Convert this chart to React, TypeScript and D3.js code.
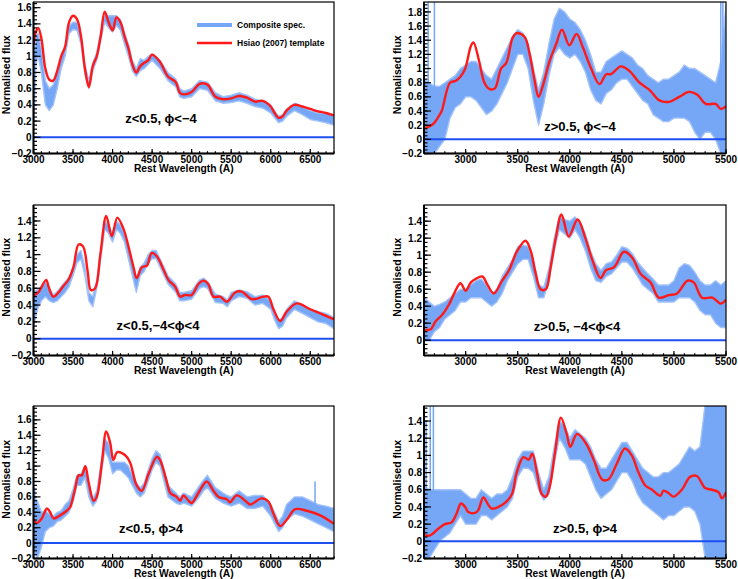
import React from "react";
import * as d3 from "d3";

// wavelength grids (Angstrom) on which the composite spectra bands were read
const gridLeft = [
  3000, 3050, 3100, 3150, 3200, 3250, 3300, 3350, 3400, 3450, 3500, 3550, 3600, 3650, 3700, 3750, 3800,
  3850, 3900, 3950, 4000, 4050, 4100, 4150, 4200, 4250, 4300, 4350, 4400, 4450, 4500, 4550, 4600,
  4700, 4800, 4850, 4900, 5000, 5100, 5150, 5200, 5300, 5400, 5450, 5500, 5600, 5700, 5800, 5900,
  6000, 6050, 6100, 6150, 6200, 6300, 6400, 6500, 6600, 6700, 6800,
];
const gridRight = [
  2600, 2650, 2700, 2750, 2800, 2850, 2900, 2950, 3000, 3050, 3100, 3150, 3200, 3250, 3300, 3350,
  3400, 3450, 3500, 3550, 3600, 3650, 3700, 3750, 3800, 3850, 3900, 3950, 4000, 4050, 4100, 4150,
  4200, 4250, 4300, 4350, 4400, 4450, 4500, 4550, 4600, 4650, 4700, 4750, 4800, 4850, 4900, 4950,
  5000, 5050, 5100, 5150, 5200, 5250, 5300, 5350, 5400, 5450, 5500,
];

// panel 1: z<0.5, phi<-4
const wave1 = [
  3000, 3030, 3060, 3100, 3150, 3200, 3250, 3300, 3350, 3400, 3450, 3500, 3550, 3600, 3650, 3700,
  3750, 3800, 3850, 3900, 3950, 4000, 4050, 4100, 4150, 4200, 4250, 4300, 4350, 4400, 4450, 4500,
  4600, 4700, 4800, 4850, 4900, 5000, 5100, 5200, 5300, 5400, 5500, 5600, 5700, 5800, 5900, 6000,
  6050, 6100, 6150, 6200, 6300, 6400, 6500, 6600, 6700, 6800,
];
const tmpl1 = [
  1.15, 1.3, 1.35, 1.22, 0.85, 0.71, 0.7, 0.82, 1.0, 1.12, 1.42, 1.5, 1.46, 1.25, 0.85, 0.62, 0.88,
  1.0, 1.25, 1.55, 1.42, 1.32, 1.48, 1.42, 1.25, 1.1, 0.9, 0.8, 0.88, 0.92, 0.95, 1.02, 0.93, 0.75,
  0.68, 0.55, 0.53, 0.56, 0.66, 0.65, 0.5, 0.47, 0.48, 0.51, 0.49, 0.44, 0.45, 0.38, 0.3, 0.24, 0.26,
  0.33, 0.4, 0.38, 0.35, 0.32, 0.3, 0.27,
];
const specLo1 = [
  0.05, 0.9, 1.0, 0.8, 0.4, 0.33, 0.4, 0.6, 0.85, 1.0, 1.28, 1.33, 1.32, 1.15, 0.78, 0.6, 0.82, 0.95,
  1.2, 1.42, 1.35, 1.3, 1.38, 1.32, 1.15, 1.0, 0.82, 0.75, 0.82, 0.85, 0.9, 0.95, 0.85, 0.7, 0.62,
  0.5, 0.48, 0.5, 0.6, 0.58, 0.45, 0.42, 0.43, 0.45, 0.42, 0.38, 0.36, 0.3, 0.24, 0.18, 0.2, 0.26,
  0.33, 0.28, 0.22, 0.2, 0.18, 0.15,
];
const specHi1 = [
  0.9, 1.25, 1.28, 1.1, 0.7, 0.6, 0.65, 0.8, 1.0, 1.12, 1.38, 1.42, 1.42, 1.25, 0.9, 0.7, 0.92, 1.05,
  1.3, 1.52, 1.5, 1.5, 1.5, 1.45, 1.3, 1.15, 0.95, 0.85, 0.97, 0.95, 1.0, 1.03, 0.95, 0.8, 0.72, 0.6,
  0.57, 0.6, 0.7, 0.68, 0.55, 0.5, 0.52, 0.55, 0.52, 0.47, 0.45, 0.4, 0.32, 0.26, 0.28, 0.35, 0.42,
  0.38, 0.33, 0.3, 0.3, 0.28,
];

// panel 2: z>0.5, phi<-4
const tmplWave2 = [
  2600, 2690, 2735, 2770, 2850, 2910, 2990, 3050, 3075, 3130, 3180, 3230, 3280, 3340, 3390, 3450,
  3490, 3565, 3615, 3660, 3700, 3740, 3805, 3870, 3925, 3995, 4065, 4125, 4205, 4285, 4350, 4395,
  4490, 4570, 4670, 4765, 4860, 4955, 5050, 5145, 5225, 5305, 5400, 5450, 5500,
];
const tmpl2 = [
  0.15, 0.22, 0.31, 0.4, 0.8, 0.83, 0.98, 1.32, 1.37, 1.1, 0.8, 0.71, 0.72, 1.0, 1.08, 1.43, 1.5,
  1.45, 1.2, 0.85, 0.6, 0.75, 1.1, 1.35, 1.55, 1.33, 1.49, 1.3, 1.0, 0.78, 0.92, 0.92, 1.03, 0.97,
  0.8, 0.7, 0.55, 0.53, 0.6, 0.67, 0.63, 0.5, 0.5, 0.43, 0.47,
];
const specLo2 = [
  -0.2, -0.2, -0.2, -0.1, 0.0, 0.3, 0.45, 0.5, 0.6, 0.6, 0.55, 0.45, 0.35, 0.4, 0.5, 0.65, 0.8, 1.0,
  1.2, 1.2, 1.0, 0.55, 0.2, 0.5, 0.9, 1.2, 1.3, 1.2, 1.15, 1.2, 1.1, 0.95, 0.7, 0.55, 0.5, 0.65, 0.7,
  0.8, 0.85, 0.85, 0.75, 0.65, 0.55, 0.5, 0.35, 0.3, 0.25, 0.25, 0.3, 0.3, 0.3, 0.25, 0.1, 0.0, 0.1,
  0.1, 0.0, -0.2, -0.2,
];
const specHi2 = [
  0.85, 0.8, 0.75, 0.75, 0.8, 0.85, 0.9, 1.0, 1.05, 1.1, 1.1, 1.0, 0.9, 0.85, 1.0, 1.15, 1.3, 1.45,
  1.55, 1.5, 1.35, 1.0, 0.7, 0.95, 1.35, 1.7, 1.85, 1.8, 1.7, 1.65, 1.55, 1.4, 1.2, 0.95, 0.95, 1.1,
  1.15, 1.2, 1.25, 1.2, 1.15, 1.05, 1.0, 0.9, 0.85, 0.8, 0.85, 0.85, 0.9, 0.95, 1.05, 1.0, 1.0, 0.95,
  0.9, 0.85, 0.8, 1.1, 1.9,
];
const spikeWave2 = [2640, 2700, 5450, 5470];
const spikeBot2 = [0.5, 0.5, -0.2, -0.2];
const spikeTop2 = [1.95, 1.95, 1.95, 1.95];

// panel 3: z<0.5, -4<phi<4
const tmplWave3 = [
  3000, 3060, 3160, 3190, 3250, 3315, 3380, 3440, 3505, 3570, 3625, 3685, 3725, 3780, 3845, 3920,
  3990, 4060, 4140, 4200, 4265, 4305, 4370, 4435, 4495, 4560, 4645, 4705, 4790, 4855, 4915, 5000,
  5085, 5150, 5210, 5275, 5360, 5445, 5550, 5635, 5760, 5910, 5970, 6035, 6120, 6200, 6330, 6500, 6800,
];
const tmpl3 = [
  0.51, 0.55, 0.7, 0.62, 0.5, 0.55, 0.63, 0.7, 0.85, 1.12, 1.1, 0.8, 0.58, 0.6, 1.0, 1.46, 1.22, 1.44,
  1.3, 1.1, 0.85, 0.72, 0.85, 0.87, 1.02, 0.98, 0.82, 0.7, 0.62, 0.5, 0.52, 0.52, 0.65, 0.69, 0.65,
  0.5, 0.5, 0.44, 0.55, 0.56, 0.47, 0.5, 0.5, 0.35, 0.21, 0.32, 0.42, 0.35, 0.23,
];
const specLo3 = [
  0.15, 0.35, 0.45, 0.5, 0.45, 0.43, 0.45, 0.5, 0.55, 0.62, 0.75, 0.9, 0.95, 0.75, 0.45, 0.38, 0.6,
  0.95, 1.3, 1.25, 1.15, 1.3, 1.25, 1.15, 0.95, 0.75, 0.55, 0.75, 0.8, 0.9, 0.95, 0.95, 0.85,
  0.65, 0.55, 0.45, 0.45, 0.47, 0.6, 0.62, 0.6, 0.43, 0.42, 0.38, 0.45, 0.5, 0.48, 0.4, 0.42, 0.35,
  0.22, 0.12, 0.15, 0.25, 0.35, 0.3, 0.25, 0.2, 0.18, 0.12,
];
const specHi3 = [
  0.55, 0.58, 0.62, 0.68, 0.6, 0.52, 0.56, 0.62, 0.68, 0.72, 0.85, 1.0, 1.05, 0.85, 0.55, 0.5, 0.7,
  1.05, 1.4, 1.35, 1.25, 1.4, 1.35, 1.25, 1.1, 0.9, 0.72, 0.85, 0.9, 1.0, 1.05, 1.05, 0.95,
  0.75, 0.65, 0.55, 0.55, 0.57, 0.7, 0.72, 0.68, 0.53, 0.5, 0.46, 0.55, 0.58, 0.56, 0.5, 0.52, 0.45,
  0.3, 0.22, 0.25, 0.35, 0.45, 0.4, 0.35, 0.32, 0.3, 0.25,
];

// panel 4: z>0.5, -4<phi<4
const tmplWave4 = [
  2600, 2665, 2710, 2775, 2840, 2890, 2950, 3000, 3050, 3095, 3160, 3210, 3270, 3350, 3415, 3495,
  3575, 3625, 3670, 3720, 3770, 3815, 3865, 3920, 3990, 4075, 4150, 4215, 4295, 4345, 4425, 4520,
  4600, 4680, 4775, 4855, 4950, 5030, 5130, 5190, 5270, 5370, 5450, 5500,
];
const tmpl4 = [
  0.12, 0.13, 0.22, 0.3, 0.42, 0.55, 0.67, 0.58, 0.68, 0.72, 0.75, 0.65, 0.55, 0.7, 0.82, 1.05, 1.17,
  1.05, 0.8, 0.6, 0.6, 0.85, 1.2, 1.48, 1.22, 1.42, 1.2, 0.95, 0.73, 0.82, 0.86, 1.04, 0.97, 0.78,
  0.68, 0.5, 0.53, 0.55, 0.7, 0.68, 0.5, 0.5, 0.43, 0.48,
];
const specLo4 = [
  0.0, 0.0, 0.1, 0.15, 0.25, 0.3, 0.35, 0.45, 0.45, 0.5, 0.5, 0.5, 0.45, 0.4, 0.45, 0.55, 0.7, 0.8,
  0.9, 0.95, 0.95, 0.75, 0.5, 0.5, 0.7, 1.05, 1.3, 1.25, 1.2, 1.3, 1.2, 1.05, 0.85, 0.7, 0.68, 0.75,
  0.78, 0.85, 0.92, 0.92, 0.85, 0.75, 0.65, 0.6, 0.55, 0.45, 0.45, 0.45, 0.45, 0.5, 0.5, 0.5, 0.45,
  0.35, 0.3, 0.3, 0.2, 0.15, 0.15,
];
const specHi4 = [
  0.5, 0.45, 0.4, 0.42, 0.45, 0.5, 0.55, 0.6, 0.6, 0.65, 0.7, 0.72, 0.65, 0.55, 0.6, 0.75, 0.85, 0.95,
  1.1, 1.12, 1.1, 0.95, 0.65, 0.62, 0.85, 1.2, 1.45, 1.42, 1.4, 1.45, 1.38, 1.25, 1.05, 0.9, 0.82,
  0.9, 0.92, 1.0, 1.1, 1.08, 1.02, 0.92, 0.85, 0.78, 0.72, 0.65, 0.65, 0.65, 0.7, 0.85, 0.9, 0.88,
  0.8, 0.7, 0.65, 0.65, 0.7, 0.65, 0.7,
];

// panel 5: z<0.5, phi>4
const tmplWave5 = [
  3000, 3040, 3105, 3170, 3210, 3255, 3335, 3420, 3465, 3525, 3570, 3610, 3655, 3695, 3760, 3800,
  3865, 3920, 3970, 4010, 4060, 4160, 4220, 4305, 4370, 4455, 4560, 4600, 4685, 4730, 4810, 4855,
  4895, 4960, 5000, 5085, 5190, 5275, 5340, 5445, 5485, 5570, 5700, 5740, 5885, 5970, 6035, 6120,
  6200, 6310, 6455, 6625, 6800,
];
const tmpl5 = [
  0.31, 0.26, 0.32, 0.45, 0.4, 0.32, 0.36, 0.42, 0.47, 0.7, 0.88, 0.88, 1.0, 0.8, 0.55, 0.6, 1.05,
  1.45, 1.3, 1.08, 1.18, 1.14, 1.05, 0.75, 0.68, 0.9, 1.12, 1.08, 0.8, 0.65, 0.6, 0.55, 0.62, 0.55,
  0.52, 0.65, 0.8, 0.68, 0.6, 0.57, 0.53, 0.62, 0.53, 0.5, 0.58, 0.54, 0.38, 0.22, 0.3, 0.44, 0.42,
  0.36, 0.25,
];
const specLo5 = [
  -0.1, -0.2, -0.05, 0.15, 0.2, 0.22, 0.28, 0.3, 0.35, 0.4, 0.55, 0.75, 0.75, 0.85, 0.6, 0.48, 0.55,
  0.85, 1.2, 1.1, 0.9, 0.95, 0.95, 0.9, 0.85, 0.75, 0.65, 0.6, 0.65, 0.8, 0.95, 1.05, 1.0,
  0.6, 0.52, 0.5, 0.52, 0.48, 0.6, 0.68, 0.72, 0.58, 0.52, 0.5, 0.48, 0.52, 0.45, 0.45, 0.48, 0.35,
  0.25, 0.15, 0.2, 0.3, 0.38, 0.35, 0.3, 0.25, 0.2, 0.15,
];
const specHi5 = [
  0.6, 0.55, 0.4, 0.42, 0.38, 0.35, 0.4, 0.42, 0.5, 0.55, 0.7, 0.88, 0.9, 1.0, 0.75, 0.58, 0.68, 1.0,
  1.35, 1.3, 1.05, 1.05, 1.05, 1.05, 1.0, 0.88, 0.78, 0.72, 0.78, 0.95, 1.1, 1.2, 1.15,
  0.75, 0.65, 0.6, 0.65, 0.6, 0.75, 0.82, 0.88, 0.72, 0.65, 0.62, 0.6, 0.68, 0.6, 0.62, 0.62, 0.5,
  0.4, 0.28, 0.35, 0.5, 0.6, 0.6, 0.55, 0.5, 0.48, 0.45,
];
const spikeWave5 = [3015, 6560];
const spikeBot5 = [0.3, 0.5];
const spikeTop5 = [0.72, 0.8];

// panel 6: z>0.5, phi>4
const tmplWave6 = [
  2600, 2660, 2740, 2800, 2865, 2915, 2955, 2995, 3025, 3090, 3120, 3170, 3220, 3250, 3315, 3380,
  3445, 3490, 3555, 3605, 3640, 3685, 3730, 3770, 3810, 3860, 3915, 3970, 4005, 4070, 4150, 4230,
  4310, 4370, 4450, 4530, 4595, 4660, 4725, 4790, 4870, 4900, 4950, 4995, 5075, 5155, 5220, 5270,
  5300, 5365, 5430, 5460, 5500,
];
const tmpl6 = [
  0.07, 0.07, 0.15, 0.2, 0.22, 0.33, 0.44, 0.4, 0.34, 0.33, 0.36, 0.51, 0.42, 0.38, 0.4, 0.45, 0.55,
  0.8, 0.98, 0.95, 1.02, 0.8, 0.55, 0.52, 0.65, 1.05, 1.44, 1.25, 1.1, 1.25, 1.15, 0.95, 0.72, 0.72,
  0.9, 1.08, 1.0, 0.8, 0.65, 0.6, 0.53, 0.59, 0.56, 0.52, 0.6, 0.75, 0.76, 0.67, 0.62, 0.6, 0.57,
  0.5, 0.57,
];
const specLo6 = [
  -0.2, -0.2, -0.1, 0.0, 0.05, 0.1, 0.2, 0.3, 0.2, 0.2, 0.2, 0.3, 0.3, 0.25, 0.3, 0.35, 0.4, 0.5,
  0.75, 0.85, 0.85, 0.8, 0.6, 0.48, 0.55, 0.9, 1.2, 1.1, 0.95, 0.95, 0.95, 0.9, 0.75, 0.6, 0.5, 0.55,
  0.6, 0.7, 0.8, 0.8, 0.7, 0.55, 0.45, 0.4, 0.35, 0.3, 0.25, 0.3, 0.3, 0.35, 0.4, 0.4, 0.35, 0.2,
  -0.2, -0.2, -0.2, -0.2, -0.2,
];
const specHi6 = [
  0.65, 0.6, 0.6, 0.6, 0.6, 0.6, 0.6, 0.6, 0.55, 0.5, 0.5, 0.6, 0.55, 0.5, 0.55, 0.55, 0.6, 0.75, 0.95,
  1.05, 1.05, 1.05, 0.8, 0.6, 0.75, 1.1, 1.4, 1.35, 1.2, 1.3, 1.25, 1.2, 1.1, 0.95, 0.85, 0.85, 0.95,
  1.05, 1.15, 1.15, 1.05, 0.95, 0.85, 0.8, 0.75, 0.75, 0.8, 0.8, 0.85, 0.9, 1.0, 1.1, 1.05, 1.1, 1.6,
  1.6, 1.6, 1.6, 1.6,
];
const spikeWave6 = [2620, 2660, 2690];
const spikeBot6 = [0.0, 0.0, 0.0];
const spikeTop6 = [1.4, 1.6, 1.6];

const legendLabels = ["Composite spec.", "Hsiao (2007) template"];

const FONT = "'Liberation Sans', Arial, Helvetica, sans-serif";
const BAND = "#76a6f6";
const BAND_EDGE = "#a3c3f9";
const RED = "#ff1a1a";
const ZERO = "#1f4ff0";

type PanelProps = {
  left: number;
  right: number;
  top: number;
  bottom: number;
  xDomain: [number, number];
  yDomain: [number, number];
  specWave: number[];
  specLo: number[];
  specHi: number[];
  tmplWave: number[];
  tmpl: number[];
  spikes?: { wave: number[]; bot: number[]; top: number[] };
  label: string;
  labelX: number;
  labelY: number;
  legend?: boolean;
  id: string;
};

const Panel = (p: PanelProps) => {
  const x = d3.scaleLinear().domain(p.xDomain).range([p.left, p.right]);
  const y = d3.scaleLinear().domain(p.yDomain).range([p.bottom, p.top]);

  const band = d3
    .area<number>()
    .x((_, i) => x(p.specWave[i]))
    .y0((_, i) => y(p.specLo[i]))
    .y1((_, i) => y(p.specHi[i]));
  const line = d3
    .line<number>()
    .x((_, i) => x(p.tmplWave[i]))
    .y((d) => y(d))
    .curve(d3.curveCatmullRom.alpha(0.5));

  const xMajor = x.ticks(8);
  const xMinor = x.ticks(40);
  const yMajor = y.ticks(10);
  const yMinor = y.ticks(40);
  const fmtY = d3.format("~g");

  return (
    <g>
      <clipPath id={p.id}>
        <rect x={p.left} y={p.top} width={p.right - p.left} height={p.bottom - p.top} />
      </clipPath>
      <g clipPath={`url(#${p.id})`}>
        <path d={band(p.specLo) || ""} fill={BAND} stroke={BAND_EDGE} strokeWidth={1.4} strokeLinejoin="round" />
        {p.spikes &&
          p.spikes.wave.map((w, i) => (
            <line
              key={i}
              x1={x(w)}
              x2={x(w)}
              y1={y(p.spikes!.bot[i])}
              y2={y(p.spikes!.top[i])}
              stroke={BAND}
              strokeWidth={1.5}
            />
          ))}
        <line x1={p.left} x2={p.right} y1={y(0)} y2={y(0)} stroke={ZERO} strokeWidth={2} />
        <path d={line(p.tmpl) || ""} fill="none" stroke={RED} strokeWidth={2.4} strokeLinejoin="round" />
      </g>

      {/* frame */}
      <rect
        x={p.left}
        y={p.top}
        width={p.right - p.left}
        height={p.bottom - p.top}
        fill="none"
        stroke="#000"
        strokeWidth={1.2}
      />
      <line x1={p.left} x2={p.left} y1={p.top} y2={p.bottom} stroke="#000" strokeWidth={2} />
      <line x1={p.left} x2={p.right} y1={p.bottom} y2={p.bottom} stroke="#000" strokeWidth={2} />

      {/* x ticks */}
      {xMinor.map((t) => (
        <line key={"xm" + t} x1={x(t)} x2={x(t)} y1={p.bottom} y2={p.bottom - 2.3} stroke="#000" strokeWidth={1.2} />
      ))}
      {xMajor.map((t) => (
        <g key={"xM" + t}>
          <line x1={x(t)} x2={x(t)} y1={p.bottom} y2={p.bottom - 4.6} stroke="#000" strokeWidth={1.2} />
          <text
            x={x(t)}
            y={p.bottom + 9.5}
            textAnchor="middle"
            fontFamily={FONT}
            fontWeight="bold"
            fontSize={10}
          >
            {d3.format("d")(t)}
          </text>
        </g>
      ))}

      {/* y ticks */}
      {yMinor.map((t) => (
        <line key={"ym" + t} x1={p.left} x2={p.left + 3.5} y1={y(t)} y2={y(t)} stroke="#000" strokeWidth={1.2} />
      ))}
      {yMajor.map((t) => (
        <g key={"yM" + t}>
          <line x1={p.left} x2={p.left + 7} y1={y(t)} y2={y(t)} stroke="#000" strokeWidth={1.2} />
          <text
            x={p.left - 2}
            y={y(t)}
            dy="0.36em"
            textAnchor="end"
            fontFamily={FONT}
            fontWeight="bold"
            fontSize={10}
          >
            {fmtY(t)}
          </text>
        </g>
      ))}

      {/* axis titles */}
      <text
        x={(p.left + p.right) / 2}
        y={p.bottom + 18.3}
        textAnchor="middle"
        fontFamily={FONT}
        fontWeight="bold"
        fontSize={10.3}
      >
        Rest Wavelength (A)
      </text>
      <text
        transform={`translate(${p.left - 23.5},${(p.top + p.bottom) / 2 - 3}) rotate(-90)`}
        textAnchor="middle"
        fontFamily={FONT}
        fontWeight="bold"
        fontSize={10.5}
      >
        Normalised flux
      </text>

      <text x={p.labelX} y={p.labelY} textAnchor="middle" fontFamily={FONT} fontWeight="bold" fontSize={13}>
        {p.label}
      </text>

      {p.legend && (
        <g fontFamily={FONT} fontWeight="bold" fontSize={8.5}>
          <line x1={197} x2={232} y1={25} y2={25} stroke={BAND} strokeWidth={4} />
          <text x={237} y={28}>
            {legendLabels[0]}
          </text>
          <line x1={197} x2={232} y1={43} y2={43} stroke={RED} strokeWidth={2.6} />
          <text x={237} y={46}>
            {legendLabels[1]}
          </text>
        </g>
      )}
    </g>
  );
};

const L = { left: 33.5, right: 334 };
const R = { left: 424, right: 726 };
const rows = [
  { top: 2, bottom: 153.5 },
  { top: 205, bottom: 355.5 },
  { top: 406, bottom: 558.5 },
];

export default function App() {
  return (
    <svg
      width={738}
      height={579}
      viewBox="0 0 738 579"
      style={{ position: "absolute", left: 0, top: 0, background: "#fff" }}
    >
      <rect width={738} height={579} fill="#fff" />
      <Panel
        id="p1"
        {...L}
        {...rows[0]}
        xDomain={[3000, 6800]}
        yDomain={[-0.2, 1.67]}
        specWave={wave1}
        specLo={specLo1}
        specHi={specHi1}
        tmplWave={wave1}
        tmpl={tmpl1}
        label="z<0.5, ϕ<−4"
        labelX={161}
        labelY={123}
        legend
      />
      <Panel
        id="p2"
        {...R}
        {...rows[0]}
        xDomain={[2600, 5500]}
        yDomain={[-0.2, 1.94]}
        specWave={gridRight}
        specLo={specLo2}
        specHi={specHi2}
        tmplWave={tmplWave2}
        tmpl={tmpl2}
        spikes={{ wave: spikeWave2, bot: spikeBot2, top: spikeTop2 }}
        label="z>0.5, ϕ<−4"
        labelX={580}
        labelY={131}
      />
      <Panel
        id="p3"
        {...L}
        {...rows[1]}
        xDomain={[3000, 6800]}
        yDomain={[-0.2, 1.59]}
        specWave={gridLeft}
        specLo={specLo3}
        specHi={specHi3}
        tmplWave={tmplWave3}
        tmpl={tmpl3}
        label="z<0.5,−4<ϕ<4"
        labelX={158}
        labelY={330}
      />
      <Panel
        id="p4"
        {...R}
        {...rows[1]}
        xDomain={[2600, 5500]}
        yDomain={[-0.18, 1.59]}
        specWave={gridRight}
        specLo={specLo4}
        specHi={specHi4}
        tmplWave={tmplWave4}
        tmpl={tmpl4}
        label="z>0.5, −4<ϕ<4"
        labelX={577}
        labelY={331}
      />
      <Panel
        id="p5"
        {...L}
        {...rows[2]}
        xDomain={[3000, 6800]}
        yDomain={[-0.2, 1.78]}
        specWave={gridLeft}
        specLo={specLo5}
        specHi={specHi5}
        tmplWave={tmplWave5}
        tmpl={tmpl5}
        spikes={{ wave: spikeWave5, bot: spikeBot5, top: spikeTop5 }}
        label="z<0.5, ϕ>4"
        labelX={151}
        labelY={533}
      />
      <Panel
        id="p6"
        {...R}
        {...rows[2]}
        xDomain={[2600, 5500]}
        yDomain={[-0.2, 1.575]}
        specWave={gridRight}
        specLo={specLo6}
        specHi={specHi6}
        tmplWave={tmplWave6}
        tmpl={tmpl6}
        spikes={{ wave: spikeWave6, bot: spikeBot6, top: spikeTop6 }}
        label="z>0.5, ϕ>4"
        labelX={585}
        labelY={533}
      />
    </svg>
  );
}
